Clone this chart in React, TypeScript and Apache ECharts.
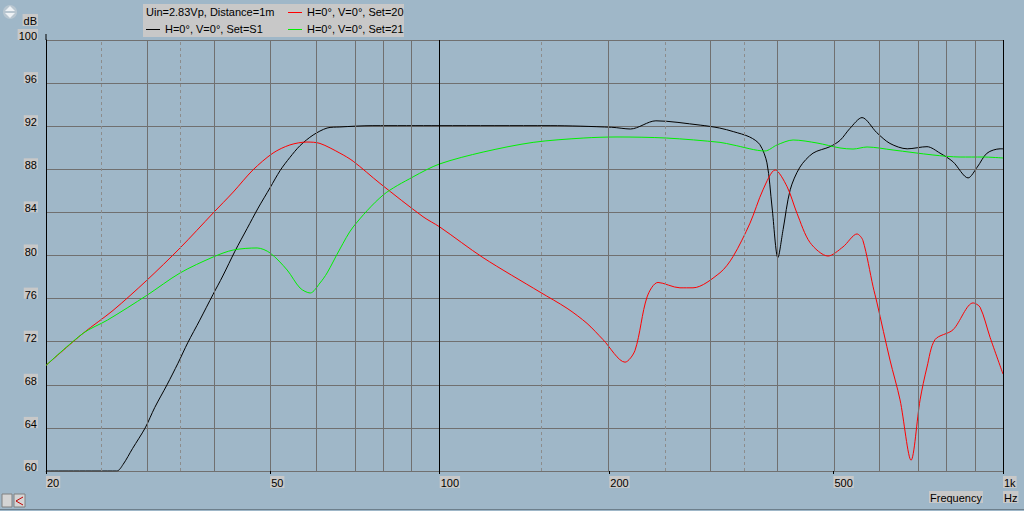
import React, { useEffect, useRef } from "react";
import * as echarts from "echarts";

// ---- Data (frequency in Hz, level in dB) ----
const freqS1 = [20, 26.7, 27.4, 28.5, 30.0, 31.2, 32.8, 34.3, 35.7, 37.5, 39.6, 41.2, 43.3, 45.5, 47.6, 50.0, 52.1, 54.2, 56.5, 59.6, 63.1, 66.5, 76.1, 100, 157, 202, 218, 242, 290, 314, 332, 355, 370, 381, 389, 398.5, 407, 419, 436, 460, 493, 514, 535, 562, 597, 630, 676, 733, 773, 815, 867, 900, 937, 988, 1000];
const dbS1 = [60, 60, 60.6, 62.1, 64.0, 65.9, 68.0, 70.0, 71.9, 74.0, 76.4, 78.1, 80.4, 82.5, 84.4, 86.3, 87.9, 89.1, 90.2, 91.18, 91.83, 91.93, 92.05, 92.05, 92.05, 91.9, 91.74, 92.5, 92.1, 91.83, 91.5, 91.0, 90.3, 88.6, 84.5, 79.8, 82.4, 86.1, 88.2, 89.5, 90.1, 90.7, 91.8, 92.8, 91.4, 90.4, 89.9, 90.1, 89.5, 88.7, 87.2, 88.2, 89.5, 89.9, 89.9];

const freq20 = [20, 23.3, 26.3, 30.2, 34.6, 39.6, 43.0, 46.6, 50.6, 54.2, 58.1, 61.3, 66.5, 70.2, 78.3, 93.4, 100, 119.4, 150.7, 168.3, 182.6, 194.9, 213.3, 222.2, 233.4, 244.1, 267, 281.6, 314.5, 331.7, 355.5, 374.9, 394, 413.6, 430.9, 454.4, 489, 520, 550.6, 564, 588, 597.5, 630, 656.5, 686.7, 712.5, 733, 757.6, 815, 885, 910.6, 948.6, 1000];
const db20 = [69.8, 72.8, 74.9, 77.7, 80.7, 83.94, 85.89, 87.94, 89.51, 90.26, 90.53, 90.4, 89.5, 88.75, 86.7, 83.6, 82.65, 79.8, 76.6, 75.1, 73.7, 72.2, 70.1, 71.2, 76.15, 77.5, 77.0, 77.0, 78.4, 79.9, 83.0, 86.1, 87.94, 86.4, 83.9, 81.2, 79.95, 80.8, 82.0, 81.4, 77.1, 75.6, 70.3, 66.6, 61.0, 66.6, 69.65, 72.2, 73.1, 75.6, 75.2, 72.4, 69.0];

const freq21 = [20, 23.3, 25.7, 30.2, 34.6, 39.6, 43.0, 47.4, 50.0, 53.6, 56.5, 58.9, 61.3, 63.1, 66.5, 70.2, 79.3, 89.7, 100, 119.4, 146.5, 179.7, 206.4, 253, 314.5, 331.7, 378, 397, 424, 467.6, 513.6, 541.7, 573.6, 638, 751, 839, 922, 1000];
const db21 = [69.8, 72.8, 74.0, 76.3, 78.38, 79.86, 80.51, 80.7, 80.23, 78.65, 76.98, 76.52, 77.45, 78.38, 80.6, 82.65, 85.6, 87.3, 88.5, 89.6, 90.5, 90.9, 91.0, 90.9, 90.5, 90.26, 89.7, 90.26, 90.72, 90.44, 89.98, 89.88, 90.07, 89.79, 89.33, 89.14, 89.14, 89.05];

const seriesNames = ["H=0°, V=0°, Set=S1", "H=0°, V=0°, Set=20", "H=0°, V=0°, Set=21"];
const seriesColors = ["#000000", "#ff0000", "#00f000"];
const headerText = "Uin=2.83Vp, Distance=1m";

const xLabelFreqs = [20, 50, 100, 200, 500, 1000];
const xLabelTexts = ["20", "50", "100", "200", "500", "1k"];
const gridSolidFreqs = [30, 40, 50, 60, 70, 80, 90, 200, 300, 400, 500, 600, 700, 800, 900];
const gridBoldFreqs = [100, 1000];
const gridDashedFreqs = [25, 35, 150, 250, 350];

const Y_MIN = 60;
const Y_MAX = 100;
const Y_STEP = 4;
const F_MIN = 20;
const F_MAX = 1000;

const L = (f: number) => Math.log10(f);
const FONT = "Liberation Sans, Arial, sans-serif";
const BG = "#9fb7c8";
const BOX = "#c8c8c8";

function pairs(fs: number[], ds: number[]) {
  return fs.map((f, i) => [L(f), ds[i]]);
}

export default function App() {
  const ref = useRef<HTMLDivElement>(null);

  useEffect(() => {
    if (!ref.current) return;
    const chart = echarts.init(ref.current, undefined, { renderer: "svg" });
    const xVals = xLabelFreqs.map(L);

    const curve = (idx: number, fs: number[], ds: number[]) => ({
      name: seriesNames[idx],
      type: "line",
      data: pairs(fs, ds),
      symbol: "none",
      smooth: 0.3,
      lineStyle: { color: seriesColors[idx], width: 1 },
      itemStyle: { color: seriesColors[idx] },
      z: 3,
    });

    const option: any = {
      animation: false,
      backgroundColor: BG,
      grid: { left: 46, right: 21, top: 40, bottom: 40, containLabel: false },
      xAxis: {
        type: "value",
        min: L(F_MIN),
        max: L(F_MAX),
        axisLine: { show: true, lineStyle: { color: "#707070", width: 1 } },
        axisTick: { show: true, customValues: xVals, length: 3, lineStyle: { color: "#000" } },
        axisLabel: {
          customValues: xVals,
          formatter: (v: number) => {
            const f = Math.round(Math.pow(10, v));
            const i = xLabelFreqs.indexOf(f);
            return i >= 0 ? xLabelTexts[i] : "";
          },
          align: "left",
          margin: 5,
          color: "#000",
          fontSize: 11,
          fontFamily: FONT,
          backgroundColor: BOX,
          padding: [1, 1, 0, 1],
          showMinLabel: true,
          showMaxLabel: true,
        },
        splitLine: { show: false },
      },
      yAxis: {
        type: "value",
        min: Y_MIN,
        max: Y_MAX,
        interval: Y_STEP,
        axisLine: { show: true, lineStyle: { color: "#000", width: 1 } },
        axisTick: { show: false },
        axisLabel: {
          color: "#000",
          fontSize: 11,
          fontFamily: FONT,
          margin: 8,
          backgroundColor: BOX,
          padding: [3, 1, 0, 1],
          verticalAlign: "bottom",
          lineHeight: 8,
        },
        splitLine: { show: true, lineStyle: { color: "#707070", width: 1 } },
      },
      series: [
        {
          name: "grid",
          type: "line",
          data: [[L(F_MIN), Y_MIN]],
          symbol: "none",
          lineStyle: { opacity: 0 },
          silent: true,
          z: 1,
          markLine: {
            silent: true,
            symbol: "none",
            label: { show: false },
            animation: false,
            data: [
              ...gridSolidFreqs.map((f) => ({ xAxis: L(f), lineStyle: { color: "#707070", width: 1, type: "solid" } })),
              ...gridDashedFreqs.map((f) => ({ xAxis: L(f), lineStyle: { color: "#8c8c8c", width: 1, type: [3, 3] } })),
              ...gridBoldFreqs.map((f) => ({ xAxis: L(f), lineStyle: { color: "#000", width: 1, type: "solid" } })),
            ],
          },
        },
        curve(0, freqS1, dbS1),
        curve(1, freq20, db20),
        curve(2, freq21, db21),
      ],
      graphic: [
        // legend box
        { type: "rect", shape: { x: 143, y: 4, width: 261, height: 33 }, style: { fill: BOX }, z: 10 },
        { type: "text", x: 146, y: 6, style: { text: headerText, fill: "#000", font: `11px ${FONT}` }, z: 11 },
        { type: "rect", shape: { x: 146, y: 29, width: 14, height: 1 }, style: { fill: seriesColors[0] }, z: 11 },
        { type: "text", x: 165, y: 23, style: { text: seriesNames[0], fill: "#000", font: `11px ${FONT}` }, z: 11 },
        { type: "rect", shape: { x: 288, y: 12, width: 14, height: 1 }, style: { fill: seriesColors[1] }, z: 11 },
        { type: "text", x: 307, y: 6, style: { text: seriesNames[1], fill: "#000", font: `11px ${FONT}` }, z: 11 },
        { type: "rect", shape: { x: 288, y: 29, width: 14, height: 1 }, style: { fill: seriesColors[2] }, z: 11 },
        { type: "text", x: 307, y: 23, style: { text: seriesNames[2], fill: "#000", font: `11px ${FONT}` }, z: 11 },
        // axis titles
        { type: "text", x: 38, y: 14, style: { text: "dB", fill: "#000", font: `11px ${FONT}`, align: "right", backgroundColor: BOX, padding: [1, 1, 0, 1] }, z: 11 },
        { type: "text", x: 929, y: 491, style: { text: "Frequency", fill: "#000", font: `11px ${FONT}`, backgroundColor: BOX, padding: [1, 1, 0, 1] }, z: 11 },
        { type: "text", x: 1003, y: 491, style: { text: "Hz", fill: "#000", font: `11px ${FONT}`, backgroundColor: BOX, padding: [1, 1, 0, 1] }, z: 11 },
        // y axis stub above plot
        { type: "rect", shape: { x: 45.5, y: 34, width: 1, height: 6 }, style: { fill: "#000" }, z: 11 },
        // top-left scroll icon
        { type: "circle", shape: { cx: 10, cy: 12, r: 7 }, style: { fill: "#b8c6d0" }, z: 11 },
        { type: "polygon", shape: { points: [[5, 11], [15, 11], [10, 6]] }, style: { fill: "#eef2f5" }, z: 12 },
        { type: "polygon", shape: { points: [[5, 13], [15, 13], [10, 18]] }, style: { fill: "#eef2f5" }, z: 12 },
        // bottom-left icons
        { type: "rect", shape: { x: 2, y: 494, width: 10, height: 13 }, style: { fill: "#d4d4d4", stroke: "#808080", lineWidth: 1 }, z: 11 },
        { type: "rect", shape: { x: 14, y: 494, width: 11, height: 13 }, style: { fill: "#d4d4d4", stroke: "#808080", lineWidth: 1 }, z: 11 },
        { type: "polyline", shape: { points: [[23, 497], [16, 501], [23, 505]] }, style: { stroke: "#c00000", lineWidth: 1, fill: "none" }, z: 12 },
        { type: "line", shape: { x1: 0, y1: 509.5, x2: 1024, y2: 509.5 }, style: { stroke: "#6d7f8c", lineWidth: 1 }, z: 11 },
      ],
    };

    chart.setOption(option);
    return () => chart.dispose();
  }, []);

  return (
    <div
      ref={ref}
      style={{ position: "fixed", left: 0, top: 0, width: 1024, height: 511, background: BG }}
    />
  );
}
